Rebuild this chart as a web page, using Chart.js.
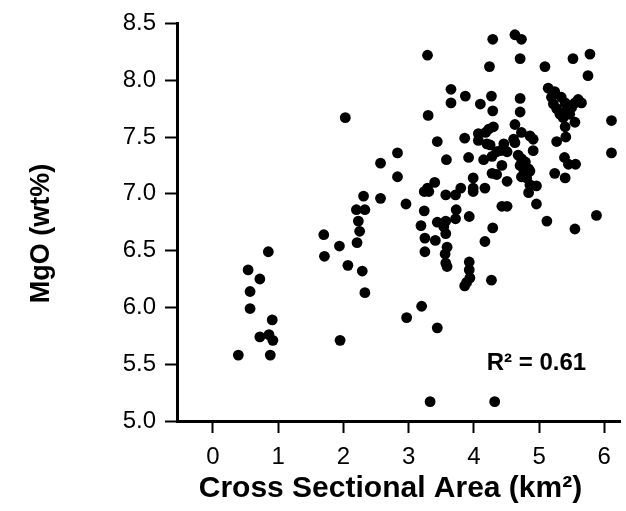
<!DOCTYPE html>
<html>
<head>
<meta charset="utf-8">
<script src="https://cdn.jsdelivr.net/npm/chart.js@4/dist/chart.umd.min.js"></script>
<style>
  html, body { margin: 0; padding: 0; background: #fff; }
  #c { display: block; }
</style>
</head>
<body>
<canvas id="c" width="626" height="511"></canvas>
<script>
// ---- data ----
const area = [
  0.39, 0.54, 0.57, 0.57, 0.72, 0.72, 0.85, 0.86, 0.88, 0.91, 0.92,
  1.70, 1.71, 1.94, 1.95, 2.03, 2.07, 2.20, 2.33, 2.23, 2.25, 2.21, 2.29, 2.33, 2.31,
  2.57, 2.57, 2.83, 2.83, 2.96, 2.97,
  3.19, 3.20, 3.24, 3.25, 3.25, 3.24, 3.29, 3.31, 3.40, 3.29, 3.30, 3.33, 3.44, 3.44, 3.41, 3.44,
  3.54, 3.57, 3.57, 3.57, 3.58, 3.59, 3.56, 3.57, 3.59, 3.65, 3.65, 3.72, 3.72, 3.73, 3.80, 3.86,
  3.87, 3.92, 3.93, 3.93, 3.93, 3.94, 3.89, 3.86, 3.99, 3.99, 3.99,
  4.07, 4.07, 4.10, 4.15, 4.17, 4.17, 4.18, 4.20, 4.23, 4.24, 4.27, 4.28, 4.28, 4.29, 4.29, 4.29,
  4.27, 4.30, 4.32, 4.35, 4.35, 4.25, 4.41, 4.43, 4.43, 4.46, 4.51, 4.51, 4.51,
  4.61, 4.63, 4.63, 4.63, 4.71, 4.71, 4.71, 4.73, 4.73, 4.86, 4.91, 4.91, 4.68, 4.73, 4.79, 4.71,
  4.76, 4.84, 4.79, 4.86, 4.73, 4.81, 4.86, 4.96, 4.84, 4.96,
  5.09, 5.12, 5.14, 5.24, 5.19, 5.22, 5.27, 5.34, 5.40, 5.42, 5.47, 5.55, 5.60, 5.65, 5.50, 5.37,
  5.40, 5.55, 5.32, 5.41, 5.27, 5.39, 5.45, 5.56, 5.24, 5.40, 5.52, 5.78, 5.75, 5.55, 5.88, 6.11, 6.11
];
const mgo = [
  5.58, 6.33, 6.14, 5.99, 6.25, 5.74, 6.49, 5.76, 5.58, 5.89, 5.71,
  6.64, 6.45, 6.54, 5.71, 7.67, 6.37, 6.86, 6.86, 6.76, 6.67, 6.57, 6.32, 6.13, 6.98,
  7.27, 6.96, 7.36, 7.15, 6.91, 5.91,
  6.72, 6.01, 6.85, 6.61, 6.49, 7.02, 7.05, 7.02, 7.10, 8.22, 7.69, 5.17, 7.46, 6.75, 6.59, 5.82,
  6.71, 6.76, 6.65, 6.99, 7.30, 6.53, 6.47, 6.39, 6.36, 7.92, 7.80, 6.99, 6.78, 6.86, 7.05, 7.49,
  7.86, 7.32, 6.80, 6.40, 6.33, 6.26, 6.22, 6.19, 7.14, 7.05, 7.02,
  7.53, 7.47, 7.79, 7.30, 7.05, 6.58, 7.54, 7.44, 7.57, 8.12, 7.86, 7.33, 7.18, 7.73, 8.36, 6.70,
  6.24, 7.59, 5.17, 7.37, 7.17, 7.43, 7.38, 7.25, 6.89, 7.44, 7.37, 7.11, 6.89,
  7.48, 7.45, 7.61, 8.40, 8.19, 7.84, 7.72, 8.36, 7.54, 7.51, 7.48, 7.38, 7.34, 7.31, 7.28, 7.25,
  7.22, 7.22, 7.18, 7.20, 7.15, 7.14, 7.08, 7.07, 7.01, 6.91,
  8.12, 6.76, 7.93, 7.90, 7.85, 7.79, 7.75, 7.85, 7.80, 7.73, 7.70, 7.80, 7.83, 7.80, 7.76, 7.67,
  7.59, 7.63, 7.70, 7.50, 7.46, 7.32, 7.26, 7.26, 7.18, 7.14, 8.19, 8.23, 8.04, 6.69, 6.81, 7.645, 7.36
];
const xTicks = [0, 1, 2, 3, 4, 5, 6];
const yTicks = [5.0, 5.5, 6.0, 6.5, 7.0, 7.5, 8.0, 8.5];
const xTitle = 'Cross Sectional Area (km²)';
const yTitle = 'MgO (wt%)';
const fitLabel = 'R² = 0.61';
const fitLabelAt = [4.96, 5.51];

// ---- chart ----
const points = area.map((x, i) => ({ x: x, y: mgo[i] }));
const FONT = "'Liberation Sans', Arial, Helvetica, sans-serif";

const fitText = {
  id: 'fitText',
  afterDatasetsDraw(chart) {
    const { ctx, scales } = chart;
    ctx.save();
    ctx.fillStyle = '#000';
    ctx.font = 'bold 24px ' + FONT;
    ctx.textAlign = 'center';
    ctx.textBaseline = 'middle';
    ctx.fillText(fitLabel, scales.x.getPixelForValue(fitLabelAt[0]), scales.y.getPixelForValue(fitLabelAt[1]));
    ctx.restore();
  }
};

new Chart(document.getElementById('c'), {
  type: 'scatter',
  data: {
    datasets: [{
      data: points,
      backgroundColor: '#000',
      borderColor: '#000',
      borderWidth: 0,
      pointRadius: 5.4,
      pointHoverRadius: 5.4
    }]
  },
  plugins: [fitText],
  options: {
    responsive: false,
    animation: false,
    devicePixelRatio: 1,
    layout: { padding: { left: 0, right: 4, top: 18, bottom: 0 } },
    plugins: { legend: { display: false }, tooltip: { enabled: false } },
    scales: {
      x: {
        type: 'linear',
        min: -0.55,
        max: 6.25,
        afterBuildTicks: s => { s.ticks = xTicks.map(v => ({ value: v })); },
        afterFit: s => { s.height = 90; },
        grid: { display: true, drawOnChartArea: false, drawTicks: true, tickLength: 12, tickWidth: 2, tickColor: '#000' },
        border: { display: true, color: '#000', width: 3 },
        ticks: { color: '#000', padding: 10, font: { family: FONT, size: 24 }, callback: v => String(v), maxRotation: 0, autoSkip: false },
        title: { display: true, text: xTitle + '\u00a0\u00a0', color: '#000', font: { family: FONT, size: 30, weight: 'bold' }, padding: { top: 0, bottom: 4 } }
      },
      y: {
        type: 'linear',
        min: 5.0,
        max: 8.5,
        afterBuildTicks: s => { s.ticks = yTicks.map(v => ({ value: v })); },
        afterFit: s => { s.width = 177; },
        grid: { display: true, drawOnChartArea: false, drawTicks: true, tickLength: 12, tickWidth: 2, tickColor: '#000' },
        border: { display: true, color: '#000', width: 3 },
        ticks: { color: '#000', padding: 9, font: { family: FONT, size: 24 }, callback: v => Number(v).toFixed(1), autoSkip: false },
        title: { display: true, text: yTitle + '\u00a0\u00a0\u00a0', color: '#000', font: { family: FONT, size: 27, weight: 'bold' }, padding: { top: 25, bottom: 0 } }
      }
    }
  }
});
</script>
</body>
</html>
